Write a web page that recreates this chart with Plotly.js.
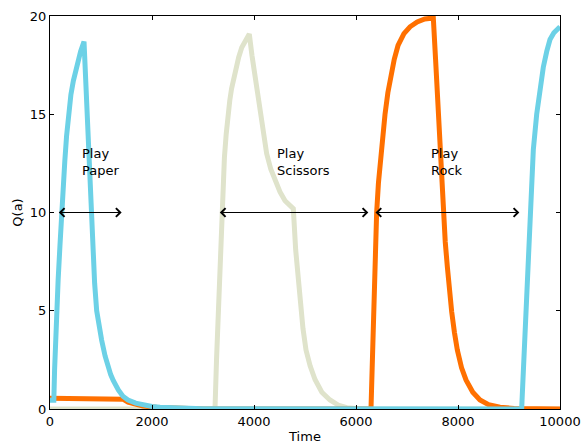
<!DOCTYPE html>
<html>
<head>
<meta charset="utf-8">
<script src="https://cdn.plot.ly/plotly-3.0.1.min.js"></script>
<style>html,body{margin:0;padding:0;background:#fff;}#chart{width:582px;height:444px;}</style>
</head>
<body>
<div id="chart"></div>
<script>
// Q(a) for "paper" (cyan)
const paperT = [0,75,90,105,131,160,195,225,255,290,325,360,410,458,500,536,600,667,
  690,719,742,765,800,837,875,915,960,1013,1080,1144,1190,1240,1290,1340,1430,1530,1680,1824,2000,2157,2400,2700,3000,9248,
  9290,9327,9370,9412,9445,9477,9543,9610,9673,9740,9804,9880,9967,10000];
const paperQ = [0.45,0.45,2.0,3.5,5,6.6,8.3,10,11.3,12.6,13.9,15,16,16.7,17.2,17.6,18.2,18.7,
  17.3,15,13.7,12.5,10.2,8.1,6.4,5,4.25,3.5,2.7,2.1,1.75,1.45,1.2,0.97,0.65,0.46,0.3,0.2,0.13,0.09,0.05,0.02,0.01,0,
  2.5,5,7.7,10,11.8,13.2,15,16.4,17.4,18.2,18.8,19.15,19.4,19.45];
// Q(a) for "scissors" (beige)
const scissorsT = [0,3235,3265,3300,3335,3365,3395,3420,3455,3490,3525,3560,3630,3700,3760,3840,3908,
  3960,4020,4080,4137,4190,4248,4330,4412,4510,4608,4700,4771,
  4817,4860,4900,4960,5020,5100,5196,5330,5490,5650,5820,6000,6300,10000];
const scissorsQ = [0,0,2.5,5,7.7,10,11.5,12.8,14,15,15.7,16.3,17.2,17.9,18.4,18.8,19.08,
  18,17,16,15,14,13,12.2,11.65,11.05,10.6,10.35,10.2,
  8.1,6.7,5.5,4.1,3.0,2.2,1.5,0.85,0.46,0.2,0.07,0.02,0,0];
// Q(a) for "rock" (orange)
const rockT = [0,1430,1530,1824,2157,2700,3000,6294,6320,6345,6375,6405,6440,6480,6525,6569,6625,6686,6750,6824,6940,7059,7200,7350,7516,
  7560,7610,7660,7712,7750,7791,7830,7876,7930,7987,8070,8157,8290,8431,8600,8824,9100,9400,10000];
const rockQ = [0.55,0.5,0.35,0.15,0.07,0.02,0,0,2.7,5,7.7,10,11.5,12.8,14,15,16.1,17,17.8,18.5,19.1,19.45,19.7,19.85,19.9,
  17.8,15.2,12.6,10,8.5,7.24,6.0,4.95,3.9,3.0,2.1,1.48,0.85,0.46,0.22,0.09,0.03,0.01,0];

// annotations
const labelText = ["Play<br>Paper", "Play<br>Scissors", "Play<br>Rock"];
const labelX = [590, 4405, 7432];
const labelY = [13.5, 13.5, 13.5];
const arrowStart = [143, 3300, 6353];
const arrowEnd = [1405, 6242, 9203];
const arrowLevel = [10, 10, 10];

const xTicks = [0, 2000, 4000, 6000, 8000, 10000];
const yTicks = [0, 5, 10, 15, 20];

const FONT = "DejaVu Sans, sans-serif";

const lineStyle = (c) => ({color: c, width: 5, shape: "linear"});
const traces = [
  {x: scissorsT, y: scissorsQ, mode: "lines", line: lineStyle("#dfe3cb"), hoverinfo: "none"},
  {x: rockT, y: rockQ, mode: "lines", line: lineStyle("#ff7000"), hoverinfo: "none"},
  {x: paperT, y: paperQ, mode: "lines", line: lineStyle("#6cd1e6"), hoverinfo: "none"}
];

const annotations = [];
for (let i = 0; i < labelText.length; i++) {
  annotations.push({x: labelX[i], y: labelY[i], xref: "x", yref: "y", text: labelText[i],
    showarrow: false, xanchor: "left", yanchor: "top", align: "left",
    font: {family: FONT, size: 13, color: "#000"}});
}
for (let i = 0; i < arrowStart.length; i++) {
  annotations.push({x: arrowEnd[i], y: arrowLevel[i], ax: arrowStart[i], ay: arrowLevel[i],
    xref: "x", yref: "y", axref: "x", ayref: "y", text: "", showarrow: true,
    arrowside: "end+start", arrowhead: 4, startarrowhead: 4, arrowsize: 1.7, startarrowsize: 1.7,
    arrowwidth: 1, arrowcolor: "#000", standoff: 0, startstandoff: 0});
}

const axisCommon = {
  showgrid: false, zeroline: false, showline: true, linecolor: "#000", linewidth: 1,
  mirror: "ticks", ticks: "inside", ticklen: 4, tickwidth: 1, tickcolor: "#000",
  tickfont: {family: FONT, size: 13, color: "#000"}, exponentformat: "none"
};

const layout = {
  width: 582, height: 444,
  margin: {l: 50, r: 22, t: 16, b: 35, pad: 0},
  paper_bgcolor: "#fff", plot_bgcolor: "#fff",
  showlegend: false,
  font: {family: FONT, size: 13, color: "#000"},
  xaxis: Object.assign({}, axisCommon, {range: [0, 10000], tickvals: xTicks, ticktext: xTicks.map(String),
    title: {text: "Time", font: {family: FONT, size: 13, color: "#000"}, standoff: 4}}),
  yaxis: Object.assign({}, axisCommon, {range: [0, 20], tickvals: yTicks, ticktext: yTicks.map(String),
    title: {text: "Q(a)", font: {family: FONT, size: 13, color: "#000"}, standoff: 4}}),
  annotations: annotations
};

Plotly.newPlot("chart", traces, layout, {staticPlot: true, displayModeBar: false});
</script>
</body>
</html>
